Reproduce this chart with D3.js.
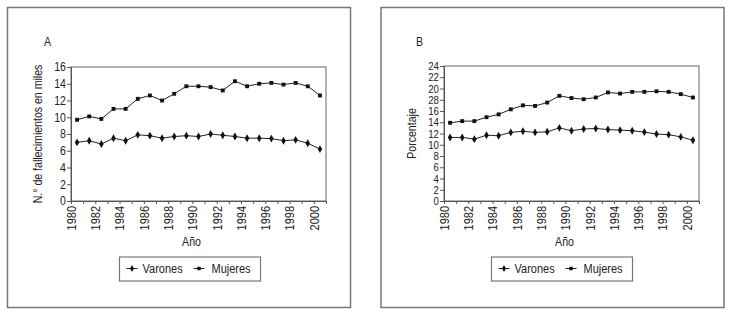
<!DOCTYPE html>
<html lang="es">
<head>
<meta charset="UTF-8">
<title>Fallecimientos 1980-2000</title>
<script src="https://d3js.org/d3.v7.min.js"></script>
<style>
    body { margin: 0; background: #fff; }
    svg text { font-family: "Liberation Sans", Arial, sans-serif; fill: #222; }
    .domain, .tick line { stroke: #555; }
</style>
</head>
<body>
<svg id="chart" width="730" height="315"></svg>
<script>
const years = [1980, 1981, 1982, 1983, 1984, 1985, 1986, 1987, 1988, 1989, 1990,
               1991, 1992, 1993, 1994, 1995, 1996, 1997, 1998, 1999, 2000];
const tickYears = [1980, 1981, 1982, 1983, 1984, 1985, 1986, 1987, 1988, 1989, 1990,
                   1991, 1992, 1993, 1994, 1995, 1996, 1997, 1998, 1999, 2000, 2001];

// panel A: deaths, thousands
const varonesA = [7.0, 7.2, 6.8, 7.5, 7.2, 7.9, 7.8, 7.5, 7.7, 7.8, 7.7,
                  8.0, 7.85, 7.7, 7.5, 7.5, 7.45, 7.2, 7.3, 6.9, 6.2];
const mujeresA = [9.7, 10.1, 9.8, 11.0, 11.0, 12.2, 12.6, 12.0, 12.8, 13.7, 13.7,
                  13.6, 13.2, 14.3, 13.7, 14.0, 14.1, 13.9, 14.1, 13.7, 12.6];
const yTicksA = [0, 2, 4, 6, 8, 10, 12, 14, 16];
const yLabelsA = ["0", "2", "4", "6", "8", "10", "12", "14", "16"];

// panel B: percentage
const varonesB = [11.3, 11.3, 11.0, 11.7, 11.6, 12.2, 12.4, 12.2, 12.3, 13.0, 12.5,
                  12.8, 12.9, 12.7, 12.6, 12.5, 12.25, 11.9, 11.8, 11.4, 10.8];
const mujeresB = [13.9, 14.2, 14.2, 14.9, 15.4, 16.3, 17.0, 16.9, 17.5, 18.7, 18.3,
                  18.1, 18.4, 19.3, 19.1, 19.4, 19.4, 19.5, 19.4, 19.0, 18.4];
const yTicksB = [0, 2, 4, 6, 8, 10, 12, 14, 16, 18, 20, 22, 24];
const yLabelsB = ["0", "2", "4", "6", "8", "10", "12", "14", "16", "28", "20", "22", "24"];

const seriesNames = ["Varones", "Mujeres"];

const svg = d3.select("#chart");

function drawPanel(opt) {
    const g = svg.append("g");

    // outer frame
    g.append("rect")
        .attr("x", opt.box[0]).attr("y", opt.box[1])
        .attr("width", opt.box[2]).attr("height", opt.box[3])
        .attr("fill", "none").attr("stroke", "#777").attr("stroke-width", 1.5);

    const x = d3.scaleLinear().domain([1980, 2001]).range([opt.left, opt.right]);
    const y = d3.scaleLinear().domain([0, opt.yMax]).range([opt.bottom, opt.top]);

    // plot frame
    g.append("rect")
        .attr("x", opt.left).attr("y", opt.top)
        .attr("width", opt.right - opt.left).attr("height", opt.bottom - opt.top)
        .attr("fill", "none").attr("stroke", "#666");

    g.append("text")
        .attr("x", opt.letterX).attr("y", 46)
        .attr("font-size", 12)
        .text(opt.letter);

    // y axis
    const ya = g.append("g")
        .attr("transform", `translate(${opt.left},0)`)
        .call(d3.axisLeft(y).tickValues(opt.yTicks).tickSize(4).tickPadding(1)
            .tickFormat((d, i) => opt.yLabels[i]));
    ya.selectAll("text").attr("font-size", opt.yFont).attr("fill", "#222");

    // x axis, a tick every year, a label every two
    const xa = g.append("g")
        .attr("transform", `translate(0,${opt.bottom})`)
        .call(d3.axisBottom(x).tickValues(tickYears).tickSize(3)
            .tickFormat(d => (d % 2 === 0 && d <= 2000) ? d : ""));
    xa.selectAll("text")
        .attr("font-size", 12.5).attr("fill", "#222")
        .attr("text-anchor", "end")
        .attr("transform", "rotate(-90)")
        .attr("x", -5).attr("y", 0).attr("dy", "0.35em");

    g.append("text")
        .attr("x", (opt.left + opt.right) / 2 - 7).attr("y", 246)
        .attr("text-anchor", "middle").attr("font-size", 12)
        .text("Año");

    g.append("text")
        .attr("transform", `translate(${opt.titleX},${(opt.top + opt.bottom) / 2}) rotate(-90)`)
        .attr("text-anchor", "middle").attr("font-size", 12)
        .text(opt.yTitle);

    const line = d3.line().x((d, i) => x(years[i] + 0.5)).y(d => y(d));
    [opt.varones, opt.mujeres].forEach((vals, k) => {
        g.append("path")
            .attr("d", line(vals))
            .attr("fill", "none").attr("stroke", "#222").attr("stroke-width", 1);
        const pts = g.append("g").selectAll("path").data(vals).join("path")
            .attr("transform", (d, i) => `translate(${x(years[i] + 0.5)},${y(d)})`)
            .attr("fill", "#111");
        if (k === 0) pts.attr("d", d3.symbol(d3.symbolDiamond, 18)());
        else pts.attr("d", d3.symbol(d3.symbolSquare, 15)());
    });

    // legend
    const lx = opt.legendX;
    g.append("rect")
        .attr("x", lx).attr("y", 257).attr("width", 141).attr("height", 24)
        .attr("fill", "none").attr("stroke", "#777").attr("stroke-width", 1.2);
    const items = [
        { dx: 7, sym: d3.symbolDiamond, size: 14, tx: 23 },
        { dx: 74, sym: d3.symbolSquare, size: 12, tx: 92 }
    ];
    items.forEach((it, k) => {
        g.append("line")
            .attr("x1", lx + it.dx).attr("x2", lx + it.dx + 11)
            .attr("y1", 268.5).attr("y2", 268.5)
            .attr("stroke", "#222");
        g.append("path")
            .attr("d", d3.symbol(it.sym, it.size)())
            .attr("transform", `translate(${lx + it.dx + 5.5},268.5)`)
            .attr("fill", "#111");
        g.append("text")
            .attr("x", lx + it.tx).attr("y", 273)
            .attr("font-size", 12.5)
            .text(seriesNames[k]);
    });
}

drawPanel({
    box: [7.5, 7.5, 343, 300],
    left: 71, right: 326, top: 67, bottom: 201,
    yMax: 16, yTicks: yTicksA, yLabels: yLabelsA, yFont: 12,
    varones: varonesA, mujeres: mujeresA,
    letter: "A", letterX: 44, titleX: 42,
    yTitle: "N.° de fallecimientos en miles",
    legendX: 119.5
});

drawPanel({
    box: [381, 7.5, 343, 300],
    left: 444, right: 699, top: 66, bottom: 201,
    yMax: 24, yTicks: yTicksB, yLabels: yLabelsB, yFont: 11,
    varones: varonesB, mujeres: mujeresB,
    letter: "B", letterX: 416, titleX: 416,
    yTitle: "Porcentaje",
    legendX: 491.5
});

// the original type is a condensed sans: squeeze every label along its baseline
svg.selectAll("text").each(function () {
    const len = this.getComputedTextLength();
    if (len > 0) {
        d3.select(this)
            .attr("textLength", len * 0.88)
            .attr("lengthAdjust", "spacingAndGlyphs");
    }
});
</script>
</body>
</html>
